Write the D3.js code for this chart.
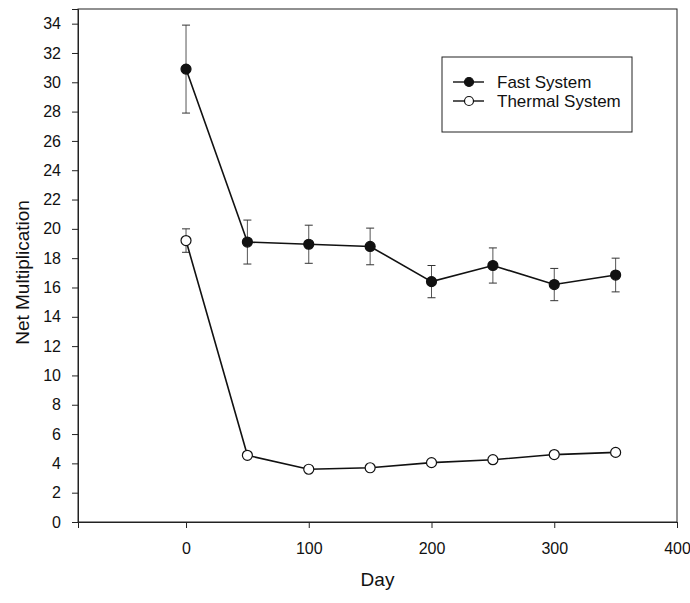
<!DOCTYPE html>
<html>
<head>
<meta charset="utf-8">
<script src="https://cdn.jsdelivr.net/npm/d3@7"></script>
<style>
  html, body { margin: 0; padding: 0; background: #fff; }
  svg text { font-family: "Liberation Sans", Arial, sans-serif; fill: #111; }
</style>
</head>
<body>
<svg id="chart" width="690" height="603"></svg>
<script>
// Net multiplication over time for the two systems
const days = [0, 50, 100, 150, 200, 250, 300, 350];
const fastValues = [30.9, 19.1, 18.95, 18.8, 16.4, 17.5, 16.2, 16.85];
const fastErrors = [3.0, 1.5, 1.3, 1.25, 1.1, 1.2, 1.1, 1.15];
const thermalValues = [19.2, 4.55, 3.6, 3.7, 4.05, 4.25, 4.6, 4.75];
const thermalErrors = [0.8, 0, 0, 0, 0, 0, 0, 0];
const xTicks = [0, 100, 200, 300, 400];
const yTicks = d3.range(0, 35, 2);
const seriesNames = ["Fast System", "Thermal System"];

const svg = d3.select("#chart");
const plotLeft = 78, plotRight = 677, plotTop = 9, plotBottom = 522;

const x = d3.scaleLinear().domain([-88, 400]).range([plotLeft, plotRight]);
const y = d3.scaleLinear().domain([0, 35]).range([plotBottom, plotTop]);

// frame
svg.append("rect")
  .attr("x", plotLeft).attr("y", plotTop)
  .attr("width", plotRight - plotLeft).attr("height", plotBottom - plotTop)
  .attr("fill", "none").attr("stroke", "#222").attr("stroke-width", 1);

// axes
const yAxis = svg.append("g")
  .attr("transform", `translate(${plotLeft},0)`)
  .call(d3.axisLeft(y).tickValues(yTicks).tickSize(6).tickPadding(11).tickFormat(d3.format("d")));
const xAxis = svg.append("g")
  .attr("transform", `translate(0,${plotBottom})`)
  .call(d3.axisBottom(x).tickValues(xTicks).tickSize(6).tickPadding(15).tickFormat(d3.format("d")));
[xAxis, yAxis].forEach(g => {
  g.attr("font-family", null);
  g.select(".domain").attr("stroke", "#222");
  g.selectAll(".tick line").attr("stroke", "#222");
  g.selectAll(".tick text").attr("font-size", 16).attr("fill", "#111");
});

// axis titles
svg.append("text")
  .attr("x", (plotLeft + plotRight) / 2).attr("y", 586)
  .attr("text-anchor", "middle").attr("font-size", 19)
  .text("Day");
svg.append("text")
  .attr("transform", `translate(29,${(plotTop + plotBottom) / 2 + 7}) rotate(-90)`)
  .attr("text-anchor", "middle").attr("font-size", 19)
  .text("Net Multiplication");

const line = d3.line().x(d => x(d.day)).y(d => y(d.value));

function drawSeries(values, errors, filled) {
  const data = days.map((day, i) => ({ day, value: values[i], err: errors[i] }));
  const g = svg.append("g");
  // error bars
  const eb = g.selectAll(".err").data(data.filter(d => d.err > 0)).join("g");
  eb.append("line")
    .attr("x1", d => x(d.day)).attr("x2", d => x(d.day))
    .attr("y1", d => y(d.value - d.err)).attr("y2", d => y(d.value + d.err))
    .attr("stroke", "#555").attr("stroke-width", 1);
  [-1, 1].forEach(s => {
    eb.append("line")
      .attr("x1", d => x(d.day) - 4).attr("x2", d => x(d.day) + 4)
      .attr("y1", d => y(d.value + s * d.err)).attr("y2", d => y(d.value + s * d.err))
      .attr("stroke", "#333").attr("stroke-width", 1);
  });
  g.append("path").datum(data)
    .attr("d", line).attr("fill", "none")
    .attr("stroke", "#111").attr("stroke-width", 1.6);
  g.selectAll("circle").data(data).join("circle")
    .attr("cx", d => x(d.day)).attr("cy", d => y(d.value)).attr("r", 5)
    .attr("fill", filled ? "#111" : "#fff")
    .attr("stroke", "#111").attr("stroke-width", 1.2);
}

drawSeries(fastValues, fastErrors, true);
drawSeries(thermalValues, thermalErrors, false);

// legend
const legend = svg.append("g");
legend.append("rect")
  .attr("x", 442).attr("y", 57).attr("width", 190).attr("height", 75)
  .attr("fill", "#fff").attr("stroke", "#222").attr("stroke-width", 1);
seriesNames.forEach((name, i) => {
  const ly = 82 + i * 19;
  legend.append("line")
    .attr("x1", 453).attr("x2", 484).attr("y1", ly).attr("y2", ly)
    .attr("stroke", "#111").attr("stroke-width", 1.4);
  legend.append("circle")
    .attr("cx", 469).attr("cy", ly).attr("r", 4.5)
    .attr("fill", i === 0 ? "#111" : "#fff")
    .attr("stroke", "#111").attr("stroke-width", 1.2);
  legend.append("text")
    .attr("x", 497).attr("y", ly + 6)
    .attr("font-size", 17)
    .text(name);
});
</script>
</body>
</html>
